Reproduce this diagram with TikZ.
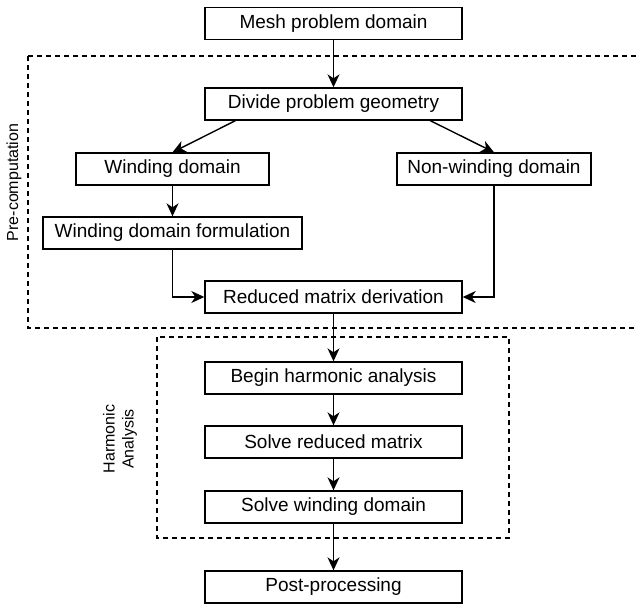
\documentclass[tikz,border=0pt]{standalone}
\usepackage{fontspec}
\setmainfont{Liberation Sans}
\usetikzlibrary{arrows.meta,calc}
\begin{document}
\begin{tikzpicture}[x=1pt,y=-1pt,
  box/.style={draw,line width=1.4pt,inner sep=0pt,minimum height=32pt,font=\fontsize{19}{22}\selectfont},
  conn/.style={line width=1.4pt,-{Stealth[length=13pt,width=12pt,inset=4pt]}},
  group/.style={line width=1.3pt,dash pattern=on 5pt off 4pt},
  lbl/.style={font=\fontsize{16}{19}\selectfont,rotate=90,align=center}]
\clip (0,0) rectangle (636,603);
\useasboundingbox (0,0) rectangle (636,603);
\node[box,minimum width=257pt] (mesh) at (333.5,23.5) {Mesh problem domain};
\node[box,minimum width=257pt] (divide) at (333.5,104) {Divide problem geometry};
\node[box,minimum width=193pt] (wind) at (172.5,169) {Winding domain};
\node[box,minimum width=194pt] (nonwind) at (494,169) {Non-winding domain};
\node[box,minimum width=259pt] (form) at (172.5,233) {Winding domain formulation};
\node[box,minimum width=257pt] (reduced) at (333.5,297) {Reduced matrix derivation};
\node[box,minimum width=257pt] (begin) at (333.5,378) {Begin harmonic analysis};
\node[box,minimum width=257pt] (solvered) at (333.5,442) {Solve reduced matrix};
\node[box,minimum width=257pt] (solvewind) at (333.5,507) {Solve winding domain};
\node[box,minimum width=257pt] (post) at (333.5,587) {Post-processing};
\draw[group] (28,56) rectangle (645,328);
\draw[group] (157,337) rectangle (509,538);
\node[lbl] (pre) at (14,182.5) {Pre-computation};
\node[lbl] (harm) at (120,439) {Harmonic\\Analysis};
\draw[conn] (mesh) -- (divide);
\draw[conn] ($(divide.south west)!0.12!(divide.south east)$) -- (wind.north);
\draw[conn] ($(divide.south west)!0.875!(divide.south east)$) -- (nonwind.north);
\draw[conn] (wind) -- (form);
\draw[conn] (form.south) |- (reduced.west);
\draw[conn] (nonwind.south) |- (reduced.east);
\draw[conn] (reduced) -- (begin);
\draw[conn] (begin) -- (solvered);
\draw[conn] (solvered) -- (solvewind);
\draw[conn] (solvewind) -- (post);
\end{tikzpicture}
\end{document}
